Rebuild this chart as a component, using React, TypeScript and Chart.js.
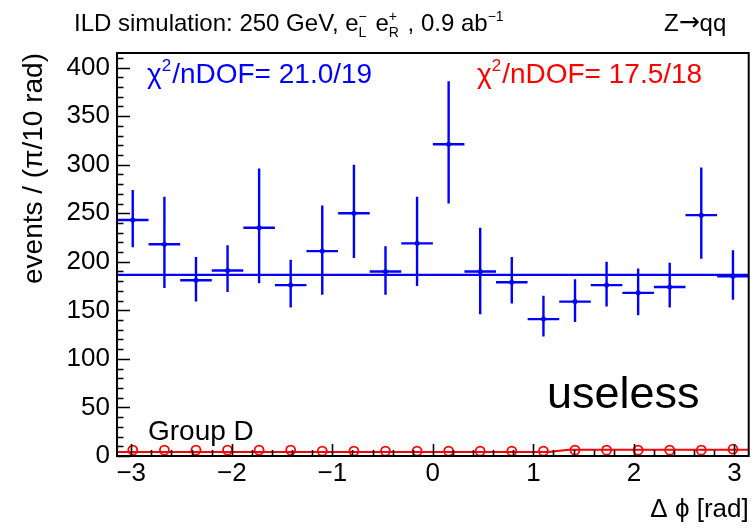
import React, { useEffect, useRef } from 'react';
import { Chart, registerables } from 'chart.js';

Chart.register(...registerables);

const FONT = '"Liberation Sans", Arial, Helvetica, sans-serif';

const binCenters = [-2.985, -2.670, -2.356, -2.042, -1.728, -1.414, -1.100, -0.785, -0.471, -0.157,
  0.157, 0.471, 0.785, 1.100, 1.414, 1.728, 2.042, 2.356, 2.670, 2.985];
const binHalfWidth = 0.157;

const blueValues = [243, 218, 181, 191, 235, 176, 211, 250, 190, 219, 321, 190, 179, 141, 159, 176, 168, 174, 248, 185];
const blueLow = [215, 173, 159, 169, 178, 153, 166, 204, 166, 175, 260, 146, 157, 123, 138, 154, 145, 153, 203, 161];
const blueHigh = [274, 267, 205, 217, 296, 202, 258, 300, 216, 267, 386, 235, 205, 165, 182, 200, 193, 199, 297, 212];
const blueFitLevel = 186.5;

const redValues = [6, 6, 6, 6, 6, 6, 5, 5, 5, 5, 5, 5, 5, 5, 6, 6, 6, 6, 6, 7];
const redCurveX = [-3.1416, 1.15, 1.35, 3.1416];
const redCurveY = [4, 4, 6.5, 6.5];

const xTickLabels = [-3, -2, -1, 0, 1, 2, 3];
const yTickLabels = [0, 50, 100, 150, 200, 250, 300, 350, 400];
const yMinorStep = 10;
const xMinorStep = 0.2;

const xMin = -Math.PI;
const xMax = Math.PI;
const yMin = 0;
const yMax = 415;

const fmt = (v: number) => (v < 0 ? '\u2212' + Math.abs(v) : String(v));

const overlayPlugin = {
  id: 'rootOverlay',
  beforeDatasetsDraw(chart: any) {
    const { ctx, scales } = chart;
    const xs = scales.x;
    const ys = scales.y;
    ctx.save();
    ctx.strokeStyle = '#0000ff';
    ctx.lineWidth = 2.4;
    ctx.beginPath();
    for (let i = 0; i < binCenters.length; i++) {
      const cx = xs.getPixelForValue(binCenters[i]);
      const x0 = xs.getPixelForValue(binCenters[i] - binHalfWidth);
      const x1 = xs.getPixelForValue(binCenters[i] + binHalfWidth);
      const yc = ys.getPixelForValue(blueValues[i]);
      const yl = ys.getPixelForValue(blueLow[i]);
      const yh = ys.getPixelForValue(blueHigh[i]);
      ctx.moveTo(cx, yl);
      ctx.lineTo(cx, yh);
      ctx.moveTo(x0, yc);
      ctx.lineTo(x1, yc);
    }
    ctx.stroke();
    ctx.restore();
  },
  afterDraw(chart: any) {
    const { ctx, chartArea, scales } = chart;
    const xs = scales.x;
    const ys = scales.y;
    const { left, right, top, bottom } = chartArea;
    ctx.save();
    // frame
    ctx.strokeStyle = '#000';
    ctx.lineWidth = 2;
    ctx.strokeRect(left, top, right - left, bottom - top);
    // y ticks
    ctx.lineWidth = 1.6;
    ctx.beginPath();
    for (let v = yMin; v <= yMax; v += yMinorStep) {
      const y = Math.round(ys.getPixelForValue(v)) + 0.5;
      const len = v % 50 === 0 ? 13 : 6.5;
      ctx.moveTo(left, y);
      ctx.lineTo(left + len, y);
    }
    // x ticks
    for (let k = -15; k <= 15; k++) {
      const v = k * xMinorStep;
      const x = Math.round(xs.getPixelForValue(v)) + 0.5;
      const len = k % 5 === 0 ? 12 : 6;
      ctx.moveTo(x, bottom);
      ctx.lineTo(x, bottom - len);
    }
    ctx.stroke();

    // title
    ctx.fillStyle = '#000';
    ctx.textBaseline = 'alphabetic';
    ctx.textAlign = 'left';
    const tSize = 24;
    const sSize = 14;
    const ty = 31;
    let x = 74;
    const put = (s: string, size: number, dy: number, fam: string = FONT) => {
      ctx.font = `${size}px ${fam}`;
      ctx.fillText(s, x, ty + dy);
      return ctx.measureText(s).width;
    };
    x += put('ILD simulation: 250 GeV, e', tSize, 0);
    {
      const w1 = put('\u2212', sSize, -10);
      const w2 = put('L', sSize, 6);
      x += Math.max(w1, w2) + 2;
    }
    x += put(' e', tSize, 0);
    {
      const w1 = put('+', sSize, -10);
      const w2 = put('R', sSize, 6);
      x += Math.max(w1, w2) + 2;
    }
    x += put(' , 0.9 ab', tSize, 0);
    put('\u22121', sSize, -10);
    x = 664;
    x += put('Z', tSize, 0);
    x += put('\u2192', 25, -1, '"DejaVu Sans", sans-serif');
    put('qq', tSize, 0);

    // chi2 texts
    const chi = (x0: number, y0: number, color: string, rest: string) => {
      ctx.fillStyle = color;
      ctx.font = `28px ${FONT}`;
      let cx = x0;
      ctx.fillText('\u03c7', cx, y0);
      cx += ctx.measureText('\u03c7').width;
      ctx.font = `17px ${FONT}`;
      ctx.fillText('2', cx, y0 - 12);
      cx += ctx.measureText('2').width + 1;
      ctx.font = `28px ${FONT}`;
      ctx.fillText(rest, cx, y0);
    };
    chi(147, 83, '#0000ff', '/nDOF= 21.0/19');
    chi(477, 83, '#ff0000', '/nDOF= 17.5/18');

    ctx.fillStyle = '#000';
    ctx.font = `45px ${FONT}`;
    ctx.fillText('useless', 547, 408);
    ctx.font = `28px ${FONT}`;
    ctx.fillText('Group D', 148, 440);
    ctx.restore();
  },
};

export default function App() {
  const ref = useRef<HTMLCanvasElement | null>(null);
  useEffect(() => {
    if (!ref.current) return;
    const chart = new Chart(ref.current, {
      type: 'scatter',
      data: {
        datasets: [
          {
            label: 'blue fit',
            data: [{ x: xMin, y: blueFitLevel }, { x: xMax, y: blueFitLevel }],
            showLine: true,
            borderColor: '#0000ff',
            borderWidth: 2.2,
            pointRadius: 0,
          },
          {
            label: 'blue',
            data: binCenters.map((c, i) => ({ x: c, y: blueValues[i] })),
            showLine: false,
            pointRadius: 2.5,
            backgroundColor: '#0000ff',
            borderColor: '#0000ff',
            borderWidth: 0,
          },
          {
            label: 'red fit',
            data: redCurveX.map((c, i) => ({ x: c, y: redCurveY[i] })),
            showLine: true,
            borderColor: '#ff0000',
            borderWidth: 2,
            pointRadius: 0,
          },
          {
            label: 'red',
            data: binCenters.map((c, i) => ({ x: c, y: redValues[i] })),
            showLine: false,
            pointRadius: 4.5,
            pointStyle: 'circle',
            backgroundColor: 'rgba(0,0,0,0)',
            borderColor: '#ff0000',
            borderWidth: 1.8,
          },
        ],
      },
      options: {
        responsive: false,
        animation: false,
        events: [],
        layout: { padding: { top: 53, right: 6, left: 0, bottom: 0 } },
        plugins: { legend: { display: false }, tooltip: { enabled: false }, title: { display: false } },
        scales: {
          x: {
            type: 'linear',
            min: xMin,
            max: xMax,
            grid: { display: false, drawTicks: false },
            border: { display: false },
            afterBuildTicks: (scale: any) => {
              scale.ticks = xTickLabels.map((v) => ({ value: v }));
            },
            afterFit: (scale: any) => {
              scale.height = 73;
            },
            ticks: {
              autoSkip: false,
              maxRotation: 0,
              padding: 2,
              color: '#000',
              font: { family: FONT, size: 26 },
              callback: (v: any) => fmt(Number(v)),
            },
            title: {
              display: true,
              text: '\u0394 \u03d5 [rad]',
              align: 'end',
              color: '#000',
              font: { family: FONT, size: 26 },
              padding: { top: 0, bottom: 4 },
            },
          },
          y: {
            type: 'linear',
            min: yMin,
            max: yMax,
            grid: { display: false, drawTicks: false },
            border: { display: false },
            afterBuildTicks: (scale: any) => {
              scale.ticks = yTickLabels.map((v) => ({ value: v }));
            },
            afterFit: (scale: any) => {
              scale.width = 117;
            },
            ticks: {
              autoSkip: false,
              padding: 7,
              color: '#000',
              font: { family: FONT, size: 26 },
              callback: (v: any) => fmt(Number(v)),
            },
            title: {
              display: true,
              text: 'events / (\u03c0/10 rad)',
              align: 'end',
              color: '#000',
              font: { family: FONT, size: 28 },
              padding: { top: 17, bottom: 0 },
            },
          },
        },
      },
      plugins: [overlayPlugin],
    });
    return () => chart.destroy();
  }, []);
  return (
    <div style={{ position: 'fixed', left: 0, top: 0, width: 755, height: 529, background: '#fff' }}>
      <canvas ref={ref} width={755} height={529} style={{ display: 'block', width: 755, height: 529 }} />
    </div>
  );
}
